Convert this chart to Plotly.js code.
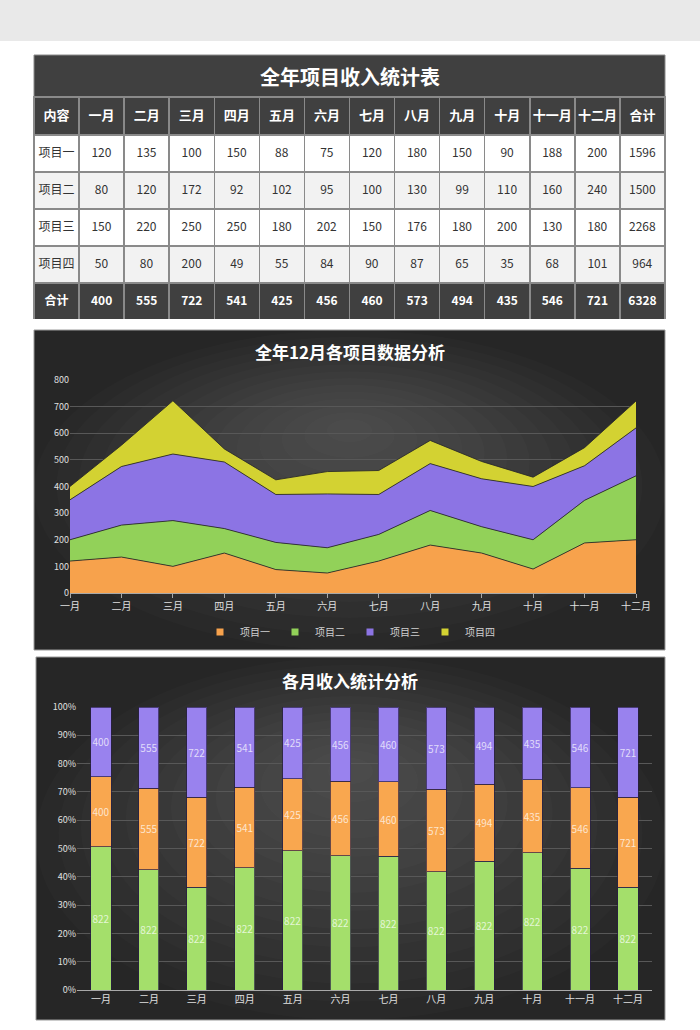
<!DOCTYPE html>
<html>
<head>
<meta charset="utf-8">
<script src="https://cdn.plot.ly/plotly-3.0.1.min.js"></script>
<style>
  html, body { margin: 0; padding: 0; background: #ffffff; }
  #chart { width: 700px; height: 1030px; }
</style>
</head>
<body>
<div id="chart"></div>
<script>
// ---------------- DATA ----------------
const months = ['一月','二月','三月','四月','五月','六月','七月','八月','九月','十月','十一月','十二月'];
const seriesNames = ['项目一','项目二','项目三','项目四'];
const proj1 = [120,135,100,150,88,75,120,180,150,90,188,200];
const proj2 = [80,120,172,92,102,95,100,130,99,110,160,240];
const proj3 = [150,220,250,250,180,202,150,176,180,200,130,180];
const proj4 = [50,80,200,49,55,84,90,87,65,35,68,101];
const monthTotals = [400,555,722,541,425,456,460,573,494,435,546,721];
const projTotals = [1596,1500,2268,964];
const grandTotal = 6328;
// 100% stacked bar series (bottom → top)
const barGreen  = [822,822,822,822,822,822,822,822,822,822,822,822];
const barOrange = [400,555,722,541,425,456,460,573,494,435,546,721];
const barPurple = [400,555,722,541,425,456,460,573,494,435,546,721];

const tableTitle = '全年项目收入统计表';
const areaTitle = '全年12月各项目数据分析';
const barTitle = '各月收入统计分析';
const firstColHeader = '内容';
const totalLabel = '合计';

// ---------------- HELPERS ----------------
const W = 700, H = 1030;
const px = v => v / W;
const py = v => 1 - v / H;
const FONT = '"Noto Sans CJK SC", "Noto Sans", sans-serif';

const colors = {
  orange: '#f7a24c', green: '#92d159', purple: '#8c74e4', yellow: '#d3d232',
  barOrange: '#f9a74f', barGreen: '#a4df6b', barPurple: '#9982ee'
};

// ---------------- TABLE ----------------
const dark = '#404040';
const rowFills = ['#ffffff', '#f2f2f2', '#ffffff', '#f2f2f2', dark];
const rowFont = ['#333333', '#333333', '#333333', '#333333', '#ffffff'];
const projData = [proj1, proj2, proj3, proj4];
const sp = s => '<span>' + s + '</span>';
const bd = s => '<b>' + s + '</b>';

const headerVals = [firstColHeader].concat(months, [totalLabel]).map(bd);
const cellCols = [];
cellCols.push(seriesNames.map(sp).concat([bd(totalLabel)]));
for (let m = 0; m < months.length; m++) {
  const col = projData.map(p => sp(p[m]));
  col.push(bd(monthTotals[m]));
  cellCols.push(col);
}
cellCols.push(projTotals.map(sp).concat([bd(grandTotal)]));
const fillCols = cellCols.map(() => rowFills);
const fontCols = cellCols.map(() => rowFont);

const tableTrace = {
  type: 'table',
  domain: { x: [px(34), px(665)], y: [py(320), py(97)] },
  columnwidth: cellCols.map(() => 1),
  header: {
    values: headerVals,
    height: 38,
    align: 'center',
    fill: { color: dark },
    line: { color: '#8a8a8a', width: 1.5 },
    font: { family: FONT, size: 13, color: '#ffffff' }
  },
  cells: {
    values: cellCols,
    height: 37,
    align: 'center',
    fill: { color: fillCols },
    line: { color: '#8a8a8a', width: 1.5 },
    font: { family: FONT, size: 12, color: fontCols }
  }
};

// ---------------- AREA CHART ----------------
const areaSeries = [proj1, proj2, proj3, proj4];
const areaColors = [colors.orange, colors.green, colors.purple, colors.yellow];
const areaTraces = areaSeries.map((vals, i) => ({
  type: 'scatter',
  mode: 'lines',
  x: months,
  y: vals,
  name: seriesNames[i],
  stackgroup: 'one',
  fillcolor: areaColors[i],
  line: { color: 'rgba(40,40,40,0.85)', width: 1 },
  showlegend: false,
  xaxis: 'x', yaxis: 'y',
  hoverinfo: 'x+y+name'
}));
// legend entries (square swatches) for the area series
const legendTraces = seriesNames.map((n, i) => ({
  type: 'scatter', mode: 'markers',
  x: [null], y: [null],
  name: n,
  marker: { symbol: 'square', size: 7, color: areaColors[i] },
  xaxis: 'x', yaxis: 'y',
  showlegend: true
}));

// ---------------- 100% STACKED BAR ----------------
const barSeries = [barGreen, barOrange, barPurple];
const barColors = [colors.barGreen, colors.barOrange, colors.barPurple];
const barTraces = barSeries.map((vals, i) => ({
  type: 'bar',
  x: months,
  y: vals,
  text: vals.map(String),
  texttemplate: '%{text}',
  textposition: 'inside',
  insidetextanchor: 'middle',
  textangle: 0,
  constraintext: 'none',
  insidetextfont: { family: FONT, size: 10, color: 'rgba(255,255,255,0.72)' },
  marker: { color: barColors[i], line: { color: 'rgba(40,30,70,0.7)', width: 1 } },
  width: 0.42,
  showlegend: false,
  xaxis: 'x2', yaxis: 'y2',
  hoverinfo: 'x+y'
}));

// ---------------- PANELS / SHAPES ----------------
function panel(x0, y0, x1, y1) {
  const out = [];
  out.push({ type: 'rect', xref: 'paper', yref: 'paper', layer: 'below',
    x0: px(x0), x1: px(x1), y0: py(y1), y1: py(y0),
    fillcolor: '#262626', line: { color: '#9a9a9a', width: 1 } });
  const w = x1 - x0, h = y1 - y0;
  const cx = x0 + w * 0.5, cy = y0 + h * 0.3;
  const n = 14;
  for (let k = 0; k < n; k++) {
    const f = 1 - k / n;
    const rx = w * 0.5 * f, ryTop = h * 0.3 * f, ryBot = h * 0.7 * f;
    out.push({ type: 'circle', xref: 'paper', yref: 'paper', layer: 'below',
      x0: px(cx - rx), x1: px(cx + rx),
      y0: py(cy + ryBot), y1: py(cy - ryTop),
      fillcolor: 'rgba(255,255,255,0.015)', line: { width: 0 } });
  }
  return out;
}

const shapes = [
  { type: 'rect', xref: 'paper', yref: 'paper', layer: 'below',
    x0: 0, x1: 1, y0: py(41), y1: 1, fillcolor: '#e9e9e9', line: { width: 0 } },
  { type: 'rect', xref: 'paper', yref: 'paper', layer: 'below',
    x0: px(34), x1: px(665), y0: py(97), y1: py(55),
    fillcolor: dark, line: { color: '#8a8a8a', width: 1 } }
].concat(panel(34, 330, 665, 650), panel(36, 657, 665, 1020));

const annotations = [
  { text: bd(tableTitle), xref: 'paper', yref: 'paper', x: 0.5, y: py(76),
    xanchor: 'center', yanchor: 'middle',
    showarrow: false, font: { family: FONT, size: 20, color: '#ffffff' } },
  { text: bd(areaTitle), xref: 'paper', yref: 'paper', x: 0.5, y: py(352),
    xanchor: 'center', yanchor: 'middle',
    showarrow: false, font: { family: FONT, size: 17, color: '#ffffff' } },
  { text: bd(barTitle), xref: 'paper', yref: 'paper', x: 0.5, y: py(680),
    xanchor: 'center', yanchor: 'middle',
    showarrow: false, font: { family: FONT, size: 17, color: '#ffffff' } }
];

const layout = {
  width: W, height: H,
  margin: { l: 0, r: 0, t: 0, b: 0 },
  paper_bgcolor: '#ffffff',
  plot_bgcolor: 'rgba(0,0,0,0)',
  font: { family: FONT },
  showlegend: true,
  legend: {
    orientation: 'h', x: 0.5, xanchor: 'center', y: py(632), yanchor: 'middle',
    font: { family: FONT, size: 10, color: '#d0d0d0' },
    bgcolor: 'rgba(0,0,0,0)', itemwidth: 30, traceorder: 'normal'
  },
  barmode: 'stack',
  barnorm: 'percent',
  xaxis: {
    domain: [px(70), px(636)], anchor: 'y',
    type: 'category', range: [0, 11],
    showline: true, linecolor: '#a8a8a8', linewidth: 1,
    ticks: 'outside', ticklen: 4, tickcolor: '#a8a8a8',
    showgrid: false, zeroline: false,
    tickfont: { family: FONT, size: 10, color: '#e0e0e0' }
  },
  yaxis: {
    domain: [py(593), py(380)], anchor: 'x',
    range: [0, 800], dtick: 100,
    gridcolor: '#585858', gridwidth: 1, zeroline: false, showline: false,
    tickfont: { family: FONT, size: 9, color: '#e0e0e0' }
  },
  xaxis2: {
    domain: [px(77), px(652)], anchor: 'y2',
    type: 'category',
    showline: true, linecolor: '#a8a8a8', linewidth: 1,
    ticks: '', showgrid: false, zeroline: false,
    tickfont: { family: FONT, size: 10, color: '#e0e0e0' }
  },
  yaxis2: {
    domain: [py(990), py(707)], anchor: 'x2',
    range: [0, 100], dtick: 10, ticksuffix: '%',
    gridcolor: '#585858', gridwidth: 1, zeroline: false, showline: false,
    tickfont: { family: FONT, size: 9, color: '#e0e0e0' }
  },
  shapes: shapes,
  annotations: annotations
};

Plotly.newPlot('chart', [tableTrace].concat(areaTraces, legendTraces, barTraces), layout,
  { displayModeBar: false, staticPlot: true });
</script>
</body>
</html>
